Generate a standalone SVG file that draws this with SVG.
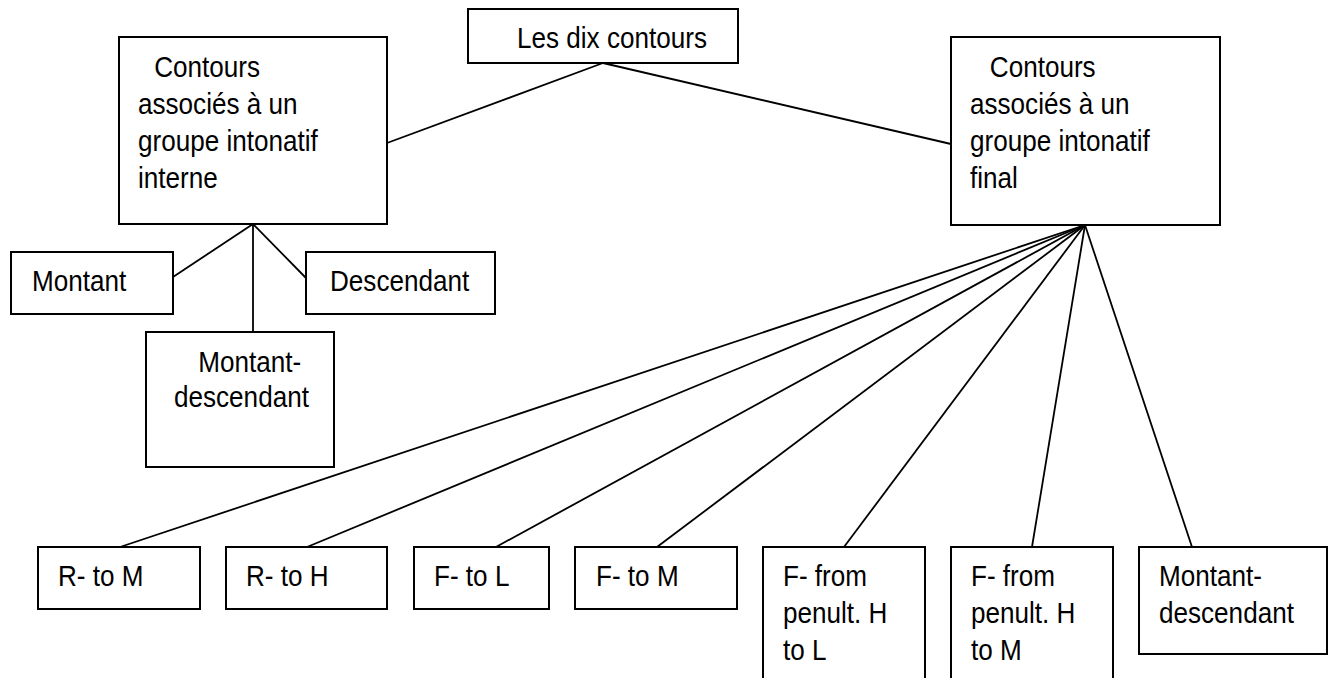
<svg xmlns="http://www.w3.org/2000/svg" width="1333" height="678" viewBox="0 0 1333 678">
  <style>
    .box { fill: #ffffff; stroke: #000000; stroke-width: 2; }
    .lbl { font-family: "Liberation Sans", Arial, sans-serif; font-size: 29px; fill: #000000; }
    .wire { stroke: #000000; stroke-width: 1.8; fill: none; }
  </style>
  <rect width="1333" height="678" fill="#ffffff"/>

  <!-- connectors -->
  <g id="connectors">
    <line class="wire" x1="603" y1="63" x2="387" y2="143"/>
    <line class="wire" x1="603" y1="63" x2="951" y2="144"/>
    <line class="wire" x1="253" y1="224" x2="173" y2="277"/>
    <line class="wire" x1="253" y1="224" x2="306" y2="278"/>
    <line class="wire" x1="253" y1="224" x2="253" y2="332"/>
    <line class="wire" x1="1085" y1="225" x2="120" y2="547"/>
    <line class="wire" x1="1085" y1="225" x2="307" y2="547"/>
    <line class="wire" x1="1085" y1="225" x2="496" y2="547"/>
    <line class="wire" x1="1085" y1="225" x2="657" y2="547"/>
    <line class="wire" x1="1085" y1="225" x2="844" y2="547"/>
    <line class="wire" x1="1085" y1="225" x2="1032" y2="547"/>
    <line class="wire" x1="1085" y1="225" x2="1192" y2="547"/>
  </g>

  <g id="root">
    <rect class="box" x="468" y="9" width="270" height="54"/>
    <text class="lbl" transform="translate(517 48) scale(0.9 1)">Les dix contours</text>
  </g>

  <g id="internal">
    <rect class="box" x="119" y="37" width="268" height="187"/>
    <text class="lbl" transform="translate(138 77) scale(0.9 1)"><tspan x="18" y="0">Contours</tspan><tspan x="0" y="37">associés à un</tspan><tspan x="0" y="74">groupe intonatif</tspan><tspan x="0" y="111">interne</tspan></text>
  </g>

  <g id="final">
    <rect class="box" x="951" y="37" width="269" height="188"/>
    <text class="lbl" transform="translate(970 77) scale(0.9 1)"><tspan x="22" y="0">Contours</tspan><tspan x="0" y="37">associés à un</tspan><tspan x="0" y="74">groupe intonatif</tspan><tspan x="0" y="111">final</tspan></text>
  </g>

  <g id="montant">
    <rect class="box" x="11" y="252" width="162" height="62"/>
    <text class="lbl" transform="translate(32 291) scale(0.9 1)">Montant</text>
  </g>

  <g id="descendant">
    <rect class="box" x="306" y="252" width="189" height="62"/>
    <text class="lbl" transform="translate(330 291) scale(0.9 1)">Descendant</text>
  </g>

  <g id="montant-descendant-internal">
    <rect class="box" x="146" y="332" width="188" height="135"/>
    <text class="lbl" transform="translate(174 372) scale(0.9 1)"><tspan x="27" y="0">Montant-</tspan><tspan x="0" y="35">descendant</tspan></text>
  </g>

  <g id="r-to-m">
    <rect class="box" x="38" y="547" width="162" height="62"/>
    <text class="lbl" transform="translate(58 586) scale(0.9 1)">R- to M</text>
  </g>

  <g id="r-to-h">
    <rect class="box" x="226" y="547" width="161" height="62"/>
    <text class="lbl" transform="translate(246 586) scale(0.9 1)">R- to H</text>
  </g>

  <g id="f-to-l">
    <rect class="box" x="414" y="547" width="135" height="62"/>
    <text class="lbl" transform="translate(434 586) scale(0.9 1)">F- to L</text>
  </g>

  <g id="f-to-m">
    <rect class="box" x="575" y="547" width="162" height="62"/>
    <text class="lbl" transform="translate(596 586) scale(0.9 1)">F- to M</text>
  </g>

  <g id="f-penult-to-l">
    <rect class="box" x="763" y="547" width="162" height="160"/>
    <text class="lbl" transform="translate(783 586) scale(0.9 1)"><tspan x="0" y="0">F- from</tspan><tspan x="0" y="37">penult. H</tspan><tspan x="0" y="74">to L</tspan></text>
  </g>

  <g id="f-penult-to-m">
    <rect class="box" x="951" y="547" width="162" height="160"/>
    <text class="lbl" transform="translate(971 586) scale(0.9 1)"><tspan x="0" y="0">F- from</tspan><tspan x="0" y="37">penult. H</tspan><tspan x="0" y="74">to M</tspan></text>
  </g>

  <g id="montant-descendant-final">
    <rect class="box" x="1139" y="547" width="188" height="107"/>
    <text class="lbl" transform="translate(1159 586) scale(0.9 1)"><tspan x="0" y="0">Montant-</tspan><tspan x="0" y="37">descendant</tspan></text>
  </g>
</svg>
